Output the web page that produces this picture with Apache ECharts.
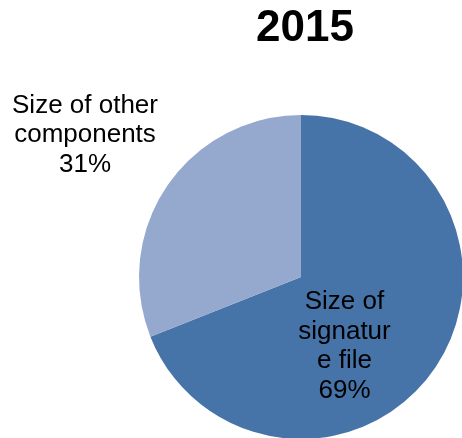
<!DOCTYPE html>
<html>
<head>
<meta charset="utf-8">
<script src="https://cdn.jsdelivr.net/npm/echarts@6/dist/echarts.min.js"></script>
<style>
  html, body { margin: 0; padding: 0; background: #fff; }
  #chart { width: 462px; height: 438px; }
</style>
</head>
<body>
<div id="chart"></div>
<script>
// Share of total size, 2015
const title = '2015';
const categories = ['Size of signature file', 'Size of other components'];
const labelTexts = ['Size of\nsignatur\ne file', 'Size of other\ncomponents'];
const values = [69, 31];
const colors = ['#4673A8', '#95A9CF'];

const chart = echarts.init(document.getElementById('chart'));

const data = categories.map((name, i) => ({
  name: name,
  value: values[i],
  itemStyle: { color: colors[i] },
  label: i === 0
    ? { position: 'inside' }
    : { position: 'outside', overflow: 'none' },
  labelLine: { show: false }
}));

chart.setOption({
  animation: false,
  title: {
    text: title,
    left: 300,
    top: 2,
    textAlign: 'center',
    textStyle: { fontFamily: 'Liberation Sans', fontWeight: 'bold', fontSize: 44, color: '#000' }
  },
  series: [{
    type: 'pie',
    center: [301, 277],
    radius: 162,
    startAngle: 90,
    clockwise: true,
    data: data,
    label: {
      formatter: p => labelTexts[p.dataIndex] + '\n' + p.value + '%',
      fontFamily: 'Liberation Sans',
      fontSize: 26,
      lineHeight: 29.5,
      color: '#000',
      align: 'center',
      overflow: 'none'
    },
    labelLayout: function (params) {
      if (params.dataIndex === 1) {
        return { x: 85, y: 135, align: 'center', verticalAlign: 'middle' };
      }
      return { dx: -26, dy: 22 };
    }
  }]
});
</script>
</body>
</html>
